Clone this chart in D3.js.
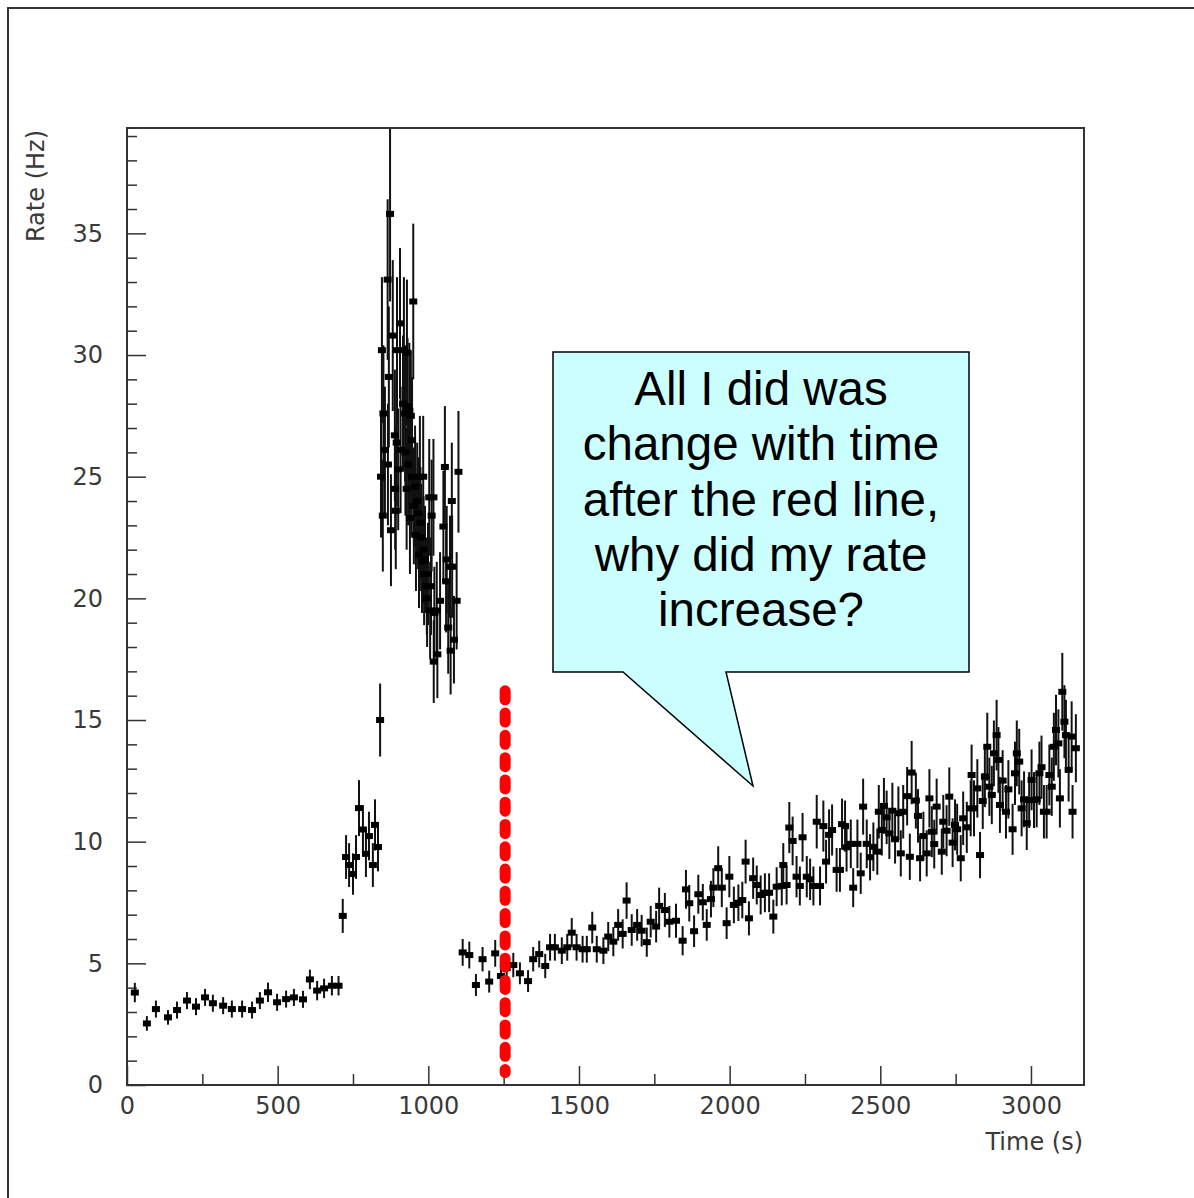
<!DOCTYPE html>
<html>
<head>
<meta charset="utf-8">
<title>Rate vs Time</title>
<script src="https://d3js.org/d3.v7.min.js"></script>
<style>
  body { margin: 0; background: #fff; }
  .lbl { font-family: "DejaVu Sans", sans-serif; font-size: 24px; fill: #3a3a3a; }
  .callout text { font-family: "Liberation Sans", Arial, sans-serif; font-size: 47.5px; fill: #000; }
</style>
</head>
<body>
<svg id="chart" width="1194" height="1198"></svg>
<script>
// each point: [time (s), rate (Hz), error (Hz)]
var quiet = [
  [26,3.80,0.4],[66,2.53,0.3],[96,3.12,0.35],[136,2.78,0.3],[166,3.08,0.35],[199,3.47,0.35],
  [229,3.22,0.35],[259,3.60,0.35],[285,3.36,0.35],[319,3.26,0.35],[348,3.12,0.35],[382,3.12,0.35],
  [415,3.08,0.35],[441,3.47,0.35],[468,3.81,0.4],[498,3.40,0.35],[528,3.53,0.35],[554,3.60,0.35],
  [584,3.52,0.35],[607,4.34,0.4],[631,3.88,0.4],[654,3.97,0.4],[680,4.08,0.4],[702,4.08,0.4]
];
var rise = [
  [716,6.95,0.7],[727,9.37,0.9],[737,9.04,0.9],[750,8.67,0.85],[760,9.37,0.9],[770,11.38,1.15],
  [783,10.5,1.0],[793,9.5,0.95],[803,10.23,1.0],[816,9.04,0.9],[823,10.69,1.05],[833,9.78,1.0],
  [840,15.0,1.5]
];
var burst = [
  [843,25.0,2.5],[846,30.2,3.0],[849,23.4,2.3],[851,27.6,2.8],[856,26.1,2.6],[865,33.1,3.3],
  [866,25.5,2.5],[869,29.1,2.9],[873,35.8,3.6],[876,22.8,2.3],[882,30.8,3.1],[889,26.7,2.7],
  [890,24.5,2.5],[892,23.6,2.4],[895,26.4,2.6],[896,30.2,3.0],[900,25.3,2.5],[906,31.3,3.1],
  [908,26.1,2.6],[916,28.0,2.8],[919,30.2,3.0],[923,27.6,2.8],[924,26.0,2.6],[928,24.5,2.5],
  [929,30.1,3.0],[931,27.9,2.8],[933,25.5,2.5],[937,27.7,2.8],[939,23.3,2.3],[942,27.5,2.7],
  [945,25.0,2.5],[946,26.5,2.6],[950,32.2,3.2],[952,23.8,2.4],[956,24.6,2.5],[959,22.6,2.3],
  [963,24.0,2.4],[966,23.5,2.3],[969,21.8,2.2],[972,25.0,2.5],[974,23.1,2.3],[976,22.5,2.2],
  [979,21.5,2.1],[983,25.0,2.5],[984,22.0,2.2],[986,21.0,2.1],[989,21.6,2.2],[995,20.5,2.0],
  [996,20.0,2.0],[999,21.0,2.1],[1003,24.15,2.4],[1006,19.5,2.0],[1009,20.5,2.0],[1011,23.4,2.3],
  [1017,24.15,2.4],[1018,17.4,1.7],[1020,19.4,1.9],[1028,19.5,2.0],[1030,17.7,1.8],[1039,19.9,2.0],
  [1050,22.95,2.3],[1055,25.4,2.5],[1059,20.7,2.1],[1061,21.6,2.2],[1066,18.8,1.9],[1072,21.3,2.1],
  [1074,17.85,1.8],[1078,24.0,2.4],[1079,21.3,2.1],[1085,18.3,1.8],[1094,19.9,2.0],[1100,25.2,2.5]
];
var after = [
  [1114,5.45,0.55],[1136,5.34,0.55],[1158,4.11,0.45],[1180,5.17,0.5],[1202,4.25,0.45],[1222,5.41,0.55],
  [1241,4.48,0.45],[1260,4.80,0.5],[1282,4.93,0.5],[1304,4.59,0.45],[1331,4.27,0.45],[1348,5.17,0.5],
  [1368,5.38,0.55],[1388,4.89,0.5],[1404,5.66,0.55],[1420,5.66,0.55],[1443,5.52,0.55],[1461,5.66,0.55],
  [1476,6.26,0.6],[1492,5.66,0.55],[1512,5.58,0.55],[1526,5.58,0.55],[1544,6.47,0.65],[1559,5.58,0.55],
  [1581,5.52,0.55],[1597,6.10,0.6],[1614,5.89,0.6],[1630,6.58,0.65],[1645,6.21,0.6],[1658,7.58,0.75],
  [1675,6.37,0.65],[1693,6.58,0.65],[1708,6.34,0.65],[1725,5.87,0.6],[1738,6.71,0.65],[1756,6.51,0.65],
  [1766,7.36,0.75],[1785,7.19,0.7],[1800,6.71,0.65],[1822,6.75,0.7],[1844,5.93,0.6],[1855,8.04,0.8],
  [1866,7.47,0.75],[1882,6.32,0.65],[1896,7.84,0.8],[1911,7.51,0.75],[1924,6.58,0.65],[1938,7.64,0.75],
  [1946,8.11,0.8],[1962,8.91,0.9],[1974,8.11,0.8],[1990,6.65,0.65],[1999,8.56,0.85],[2014,7.40,0.75],
  [2029,7.49,0.75],[2042,7.60,0.75],[2053,9.18,0.9],[2064,6.85,0.7],[2078,8.50,0.85],[2090,8.22,0.8],
  [2103,7.81,0.8],[2117,7.90,0.8],[2131,7.90,0.8],[2145,6.92,0.7],[2156,8.15,0.8],[2173,8.18,0.8],
  [2178,9.04,0.9],[2189,8.22,0.8],[2198,10.58,1.05],[2209,10.03,1.0],[2222,8.56,0.85],[2233,8.18,0.8],
  [2242,10.18,1.0],[2256,8.56,0.85],[2267,8.45,0.85],[2278,8.18,0.8],[2289,10.82,1.1],[2300,8.18,0.8],
  [2311,10.64,1.05],[2320,9.18,0.9],[2330,10.28,1.05],[2340,10.48,1.05],[2355,8.84,0.9],[2366,8.84,0.9],
  [2373,10.72,1.05],[2383,10.64,1.05],[2388,9.77,1.0],[2402,9.91,1.0],[2410,8.11,0.8],[2424,9.91,1.0],
  [2435,8.70,0.85],[2443,11.44,1.15],[2455,9.91,1.0],[2466,9.36,0.95],[2477,9.79,1.0],[2490,9.59,0.95],
  [2495,11.23,1.1],[2505,10.48,1.05],[2512,11.47,1.15],[2521,11.0,1.1],[2530,10.34,1.05],[2540,11.27,1.15],
  [2549,10.1,1.0],[2560,11.17,1.1],[2568,9.52,0.95],[2576,11.23,1.1],[2589,11.87,1.2],[2598,9.38,0.95],
  [2604,12.84,1.3],[2618,11.69,1.15],[2625,11.06,1.1],[2632,9.32,0.95],[2643,10.23,1.0],[2654,9.52,0.95],
  [2663,11.78,1.2],[2671,10.41,1.05],[2679,9.90,1.0],[2687,11.44,1.15],[2704,9.59,0.95],[2709,10.82,1.1],
  [2720,10.45,1.05],[2729,11.85,1.2],[2740,9.96,1.0],[2748,10.69,1.05],[2755,10.51,1.05],[2767,9.32,0.95],
  [2775,10.96,1.1],[2787,10.59,1.05],[2800,11.37,1.15],[2803,12.74,1.25],[2811,11.37,1.15],[2822,12.19,1.2],
  [2831,9.45,0.95],[2840,11.67,1.15],[2847,12.67,1.25],[2855,13.90,1.4],[2862,12.26,1.2],[2870,11.92,1.2],
  [2877,13.63,1.35],[2886,14.38,1.45],[2892,13.36,1.35],[2897,11.51,1.15],[2906,12.51,1.25],[2917,11.23,1.1],
  [2925,12.15,1.2],[2939,10.51,1.05],[2947,12.81,1.3],[2953,13.63,1.35],[2961,13.29,1.35],[2969,11.37,1.15],
  [2977,11.74,1.15],[2986,10.76,1.1],[2994,11.71,1.15],[3002,12.54,1.25],[3010,11.71,1.15],[3019,11.74,1.15],
  [3028,12.81,1.3],[3035,13.06,1.3],[3043,11.23,1.1],[3052,11.23,1.1],[3061,12.74,1.25],[3069,12.26,1.2],
  [3076,13.90,1.4],[3083,14.59,1.45],[3091,14.04,1.4],[3096,11.78,1.2],[3104,16.16,1.6],[3111,14.93,1.5],
  [3116,14.38,1.45],[3125,12.95,1.3],[3135,14.32,1.45],[3138,11.23,1.1],[3149,13.84,1.4]
];

var xMajor = [0, 500, 1000, 1500, 2000, 2500, 3000];
var xMinor = [250, 750, 1250, 1750, 2250, 2750];
var yMajor = [0, 5, 10, 15, 20, 25, 30, 35];
var yMinor = d3.range(1, 40).filter(function(v) { return v % 5 != 0; });

var redLineTime = 1255;
var redLineSpan = [0.51, 16.2];

var calloutLines = ["All I did was", "change with time", "after the red line,", "why did my rate", "increase?"];

var svg = d3.select("#chart"),
    margin = {top: 128, right: 110, bottom: 113, left: 127},
    width = +svg.attr("width") - margin.left - margin.right,
    height = +svg.attr("height") - margin.top - margin.bottom;

svg.append("rect").attr("width", 1194).attr("height", 1198).attr("fill", "#fff");
// outer pad frame (runs off the right and bottom edges)
svg.append("rect")
    .attr("x", 8).attr("y", 8).attr("width", 1300).attr("height", 1300)
    .attr("fill", "none").attr("stroke", "#333").attr("stroke-width", 2);

var x = d3.scaleLinear().domain([0, 3176]).range([margin.left, margin.left + width]);
var y = d3.scaleLinear().domain([0, 39.33]).range([margin.top + height, margin.top]);

svg.append("clipPath").attr("id", "plotclip")
  .append("rect")
    .attr("x", margin.left).attr("y", margin.top)
    .attr("width", width).attr("height", height);

// ticks inside the frame
function tickAxis(axis, size, vals, tr) {
  var g = svg.append("g")
      .attr("transform", tr)
      .style("color", "#333")
      .call(axis.tickValues(vals).tickSize(size).tickFormat(""));
  g.select(".domain").remove();
  g.selectAll("line").attr("stroke-width", 1.5);
}
tickAxis(d3.axisRight(y), 10, yMinor, "translate(" + margin.left + ",0)");
tickAxis(d3.axisRight(y), 19, yMajor, "translate(" + margin.left + ",0)");
tickAxis(d3.axisTop(x), 11, xMinor, "translate(0," + (margin.top + height) + ")");
tickAxis(d3.axisTop(x), 19, xMajor, "translate(0," + (margin.top + height) + ")");

// tick labels
var yLab = svg.append("g")
    .attr("transform", "translate(" + margin.left + ",0)")
    .call(d3.axisLeft(y).tickValues(yMajor).tickSize(0).tickPadding(24).tickFormat(d3.format("d")));
yLab.select(".domain").remove();
yLab.selectAll("text").attr("class", "lbl").attr("font-size", null).attr("font-family", null);

var xLab = svg.append("g")
    .attr("transform", "translate(0," + (margin.top + height) + ")")
    .call(d3.axisBottom(x).tickValues(xMajor).tickSize(0).tickPadding(12).tickFormat(d3.format("d")));
xLab.select(".domain").remove();
xLab.selectAll("text").attr("class", "lbl").attr("font-size", null).attr("font-family", null);

svg.append("text").attr("class", "lbl")
    .attr("x", margin.left + width - 1).attr("y", 1150)
    .attr("text-anchor", "end").text("Time (s)");

svg.append("text").attr("class", "lbl")
    .attr("transform", "translate(44,130) rotate(-90)")
    .attr("text-anchor", "end").text("Rate (Hz)");

// data points with error bars
var points = quiet.concat(rise, burst, after);
var pg = svg.append("g").attr("clip-path", "url(#plotclip)");

pg.selectAll("line.err")
  .data(points)
  .enter().append("line")
    .attr("class", "err")
    .attr("x1", function(d) { return x(d[0]); })
    .attr("x2", function(d) { return x(d[0]); })
    .attr("y1", function(d) { return y(d[1] - d[2]); })
    .attr("y2", function(d) { return y(d[1] + d[2]); })
    .attr("stroke", "#111")
    .attr("stroke-width", 2);

pg.selectAll("rect.pt")
  .data(points)
  .enter().append("rect")
    .attr("class", "pt")
    .attr("x", function(d) { return x(d[0]) - 4; })
    .attr("y", function(d) { return y(d[1]) - 3; })
    .attr("width", 8)
    .attr("height", 6)
    .attr("fill", "#000");

// frame
svg.append("rect")
    .attr("x", margin.left).attr("y", margin.top)
    .attr("width", width).attr("height", height)
    .attr("fill", "none").attr("stroke", "#333").attr("stroke-width", 2);

// red dotted marker line
svg.append("line")
    .attr("x1", x(redLineTime)).attr("x2", x(redLineTime))
    .attr("y1", y(redLineSpan[1])).attr("y2", y(redLineSpan[0]))
    .attr("stroke", "#ff0000")
    .attr("stroke-width", 11)
    .attr("stroke-linecap", "round")
    .attr("stroke-dasharray", "9 13.28");

// speech bubble
var callout = svg.append("g").attr("class", "callout");
callout.append("path")
    .attr("d", "M553,352 H969 V672 H726 L753,786 L623,672 H553 Z")
    .attr("fill", "#ccffff")
    .attr("stroke", "#000")
    .attr("stroke-width", 1.5)
    .attr("stroke-linejoin", "miter");

callout.selectAll("text")
  .data(calloutLines)
  .enter().append("text")
    .attr("x", 761)
    .attr("y", function(d, i) { return 405 + i * 55.3; })
    .attr("text-anchor", "middle")
    .text(function(d) { return d; });
</script>
</body>
</html>
